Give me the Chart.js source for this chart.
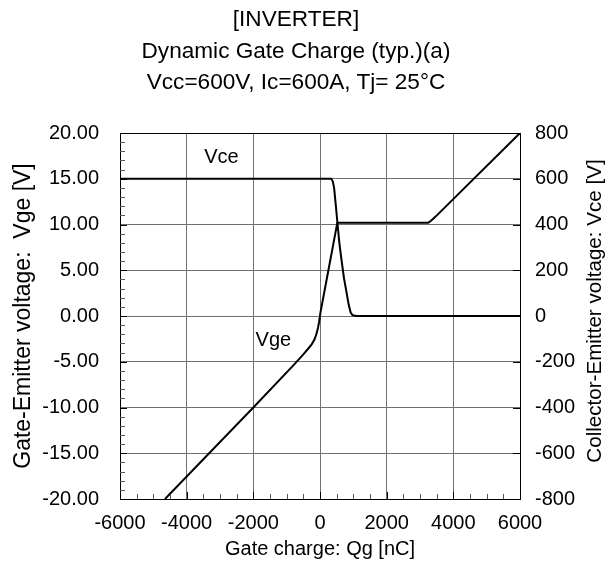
<!DOCTYPE html>
<html>
<head>
<meta charset="utf-8">
<script src="https://cdn.jsdelivr.net/npm/chart.js@4.4.0/dist/chart.umd.min.js"></script>
<style>
  html, body { margin: 0; padding: 0; background: #fff; }
  #wrap { position: relative; width: 612px; height: 577px; }
  #c { position: absolute; left: 0; top: 0; }
  .ttl { position: absolute; left: 0; width: 592px; text-align: center;
         font-family: 'Liberation Sans', Arial, sans-serif; font-size: 22.6px; color: #000;
         line-height: 32px; white-space: nowrap; }
</style>
</head>
<body>
<div id="wrap">
  <canvas id="c" width="612" height="577"></canvas>
  <div class="ttl" style="top:3px">[INVERTER]</div>
  <div class="ttl" style="top:35px">Dynamic Gate Charge (typ.)(a)</div>
  <div class="ttl" style="top:66px">Vcc=600V, Ic=600A, Tj= 25°C</div>
</div>
<script>
// ---- data ----
const xTicks = [-6000, -4000, -2000, 0, 2000, 4000, 6000];
const vgeTicks = [-20, -15, -10, -5, 0, 5, 10, 15, 20];
const vceTicks = [-800, -600, -400, -200, 0, 200, 400, 600, 800];

const vgeQ = [-4650, -2000, -800, -500, -350, -250, -170, -110, -60, -25, 10, 520, 3250, 3330, 3420, 3520, 6000];
const vgeV = [-20, -10, -5.4, -4.2, -3.55, -3.1, -2.6, -2.0, -1.3, -0.6, 0.3, 10.2, 10.2, 10.4, 10.7, 11.05, 20];

const vceQ = [-6000, 340, 385, 425, 470, 520, 580, 650, 720, 800, 860, 920, 980, 1100, 6000];
const vceV = [600, 600, 588, 558, 490, 412, 320, 240, 165, 100, 50, 15, 3, 0, 0];

const curveLabels = ['Vce', 'Vge'];
const labelQ = [-2955, -1400];
const labelV = [17.3, -2.67];

const FONT = "'Liberation Sans', Arial, sans-serif";

const extras = {
  id: 'extras',
  afterDraw(chart) {
    const ctx = chart.ctx;
    const a = chart.chartArea;
    const sx = chart.scales.x, sy = chart.scales.y, sy1 = chart.scales.y1;
    ctx.save();
    // minor ticks left axis (every 1 V)
    ctx.strokeStyle = '#555';
    ctx.lineWidth = 1;
    ctx.beginPath();
    for (let v = -19; v < 20; v++) {
      if (v % 5 === 0) continue;
      const y = Math.round(sy.getPixelForValue(v)) + 0.5;
      ctx.moveTo(a.left, y); ctx.lineTo(a.left + 5, y);
    }
    // minor ticks bottom axis (every 500 nC)
    for (let q = -5500; q < 6000; q += 500) {
      if (q % 2000 === 0) continue;
      const x = Math.round(sx.getPixelForValue(q)) + 0.5;
      ctx.moveTo(x, a.bottom); ctx.lineTo(x, a.bottom - 5);
    }
    ctx.stroke();
    // major ticks (dark, inside)
    ctx.strokeStyle = '#000';
    ctx.beginPath();
    vgeTicks.forEach(v => {
      const y = Math.round(sy.getPixelForValue(v)) + 0.5;
      ctx.moveTo(a.left, y); ctx.lineTo(a.left + 7, y);
    });
    vceTicks.forEach(v => {
      const y = Math.round(sy1.getPixelForValue(v)) + 0.5;
      ctx.moveTo(a.right, y); ctx.lineTo(a.right - 7, y);
    });
    xTicks.forEach(q => {
      const x = Math.round(sx.getPixelForValue(q)) + 0.5;
      ctx.moveTo(x, a.bottom); ctx.lineTo(x, a.bottom - 7);
    });
    ctx.stroke();
    // curve labels
    ctx.fillStyle = '#000';
    ctx.font = '20px ' + FONT;
    ctx.textAlign = 'center';
    ctx.textBaseline = 'middle';
    curveLabels.forEach((t, i) => {
      ctx.fillText(t, sx.getPixelForValue(labelQ[i]), sy.getPixelForValue(labelV[i]));
    });
    // right axis title (reads bottom-to-top)
    ctx.font = '20.6px ' + FONT;
    ctx.translate(595, (a.top + a.bottom) / 2 - 5);
    ctx.rotate(-Math.PI / 2);
    ctx.fillText('Collector-Emitter voltage: Vce [V]', 0, 0);
    ctx.restore();
  }
};

const gridColor = (max, min) => (c) => {
  const v = c.tick && c.tick.value;
  return (v === max || v === min) ? '#000' : '#707070';
};

new Chart(document.getElementById('c'), {
  type: 'scatter',
  data: {
    datasets: [
      { label: 'Vge', data: vgeQ.map((q, i) => ({ x: q, y: vgeV[i] })), yAxisID: 'y',
        showLine: true, borderColor: '#000', borderWidth: 2, pointRadius: 0, tension: 0 },
      { label: 'Vce', data: vceQ.map((q, i) => ({ x: q, y: vceV[i] })), yAxisID: 'y1',
        showLine: true, borderColor: '#000', borderWidth: 2, pointRadius: 0, tension: 0 }
    ]
  },
  options: {
    responsive: false,
    animation: false,
    devicePixelRatio: 1,
    layout: { padding: { top: 133, left: 0, right: 0, bottom: 0 } },
    plugins: { legend: { display: false }, tooltip: { enabled: false }, title: { display: false } },
    scales: {
      x: {
        type: 'linear', min: -6000, max: 6000,
        afterBuildTicks: s => { s.ticks = xTicks.map(v => ({ value: v })); },
        afterFit: s => { s.height = 78; },
        ticks: { color: '#000', font: { family: FONT, size: 20 }, padding: 12, maxRotation: 0,
                 callback: v => String(v) },
        grid: { color: gridColor(6000, -6000), drawTicks: false, lineWidth: 1 },
        border: { display: true, color: '#000', width: 1 },
        title: { display: true, text: 'Gate charge: Qg [nC]', color: '#000',
                 font: { family: FONT, size: 20 }, padding: { top: 0, bottom: 16 } }
      },
      y: {
        type: 'linear', position: 'left', min: -20, max: 20,
        afterBuildTicks: s => { s.ticks = vgeTicks.map(v => ({ value: v })); },
        afterFit: s => { s.width = 120; },
        ticks: { color: '#000', font: { family: FONT, size: 20 }, padding: 21,
                 callback: v => v.toFixed(2) },
        grid: { color: gridColor(20, -20), drawTicks: false, lineWidth: 1 },
        border: { display: true, color: '#000', width: 1 },
        title: { display: true, text: 'Gate-Emitter voltage:  Vge [V]', color: '#000',
                 font: { family: FONT, size: 23 }, padding: { top: 10, bottom: 0 } }
      },
      y1: {
        type: 'linear', position: 'right', min: -800, max: 800,
        afterBuildTicks: s => { s.ticks = vceTicks.map(v => ({ value: v })); },
        afterFit: s => { s.width = 92; },
        ticks: { color: '#000', font: { family: FONT, size: 20 }, padding: 15,
                 callback: v => String(v) },
        grid: { drawOnChartArea: false, drawTicks: false },
        border: { display: true, color: '#000', width: 1 },
        title: { display: false }
      }
    }
  },
  plugins: [extras]
});
</script>
</body>
</html>
